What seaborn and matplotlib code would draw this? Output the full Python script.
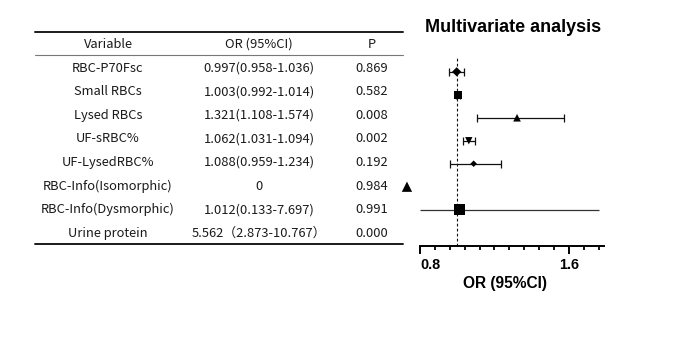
import numpy as np
import pandas as pd
import matplotlib
matplotlib.use("Agg")
import matplotlib.pyplot as plt
from matplotlib.ticker import FixedLocator
import seaborn as sns

# table contents
variables = ["RBC-P70Fsc", "Small RBCs", "Lysed RBCs", "UF-sRBC%", "UF-LysedRBC%",
             "RBC-Info(Isomorphic)", "RBC-Info(Dysmorphic)", "Urine protein"]
or_text = ["0.997(0.958-1.036)", "1.003(0.992-1.014)", "1.321(1.108-1.574)",
           "1.062(1.031-1.094)", "1.088(0.959-1.234)", "0", "1.012(0.133-7.697)",
           "5.562（2.873-10.767）"]
p_text = ["0.869", "0.582", "0.008", "0.002", "0.192", "0.984", "0.991", "0.000"]

# values for the forest plot
or_est = [0.997, 1.003, 1.321, 1.062, 1.088, 0.0, 1.012, 5.562]
ci_lo = [0.958, 0.992, 1.108, 1.031, 0.959, np.nan, 0.133, 2.873]
ci_hi = [1.036, 1.014, 1.574, 1.094, 1.234, np.nan, 7.697, 10.767]
markers = ["D", "s", "^", "v", "D", "^", "s", None]
msizes = [22, 36, 30, 28, 11, 55, 60, 0]

W, H = 685, 337
X_LO, X_HI = 0.72, 1.79
AX_LO, AX_HI = 0.80, 1.76

sns.set_style("white")
plt.rcParams["font.family"] = ["Noto Sans CJK SC", "DejaVu Sans"]

fig = plt.figure(figsize=(W / 100, H / 100), dpi=100)

# ---- table (pixel coordinates) ----
tab = fig.add_axes([0, 0, 1, 1])
tab.set_xlim(0, W)
tab.set_ylim(H, 0)
tab.axis("off")
col_x = [108, 259, 372]
tab.plot([35, 403], [32, 32], color="#1a1a1a", lw=1.4)
tab.plot([35, 403], [55, 55], color="#777", lw=0.8)
tab.plot([35, 403], [244, 244], color="#1a1a1a", lw=1.4)
for x, h in zip(col_x, ["Variable", "OR (95%CI)", "P"]):
    tab.text(x, 44, h, ha="center", va="center", fontsize=9.3, color="#1a1a1a")
for i in range(len(variables)):
    y = 68 + 23.6 * i
    for x, s in zip(col_x, [variables[i], or_text[i], p_text[i]]):
        tab.text(x, y, s, ha="center", va="center", fontsize=9.3, color="#1a1a1a")

# ---- forest plot ----
left = (420 - (0.8 - X_LO) * 186.25) / W
width = (X_HI - X_LO) * 186.25 / W
ax = fig.add_axes([left, (H - 246) / H, width, (246 - 58) / H])

df = pd.DataFrame({"name": variables, "est": or_est, "lo": ci_lo, "hi": ci_hi,
                   "marker": markers, "size": msizes})
df["row"] = np.arange(len(df))
shown = df[df["est"] <= X_HI].copy()
shown["x"] = shown["est"].clip(lower=0.73)

# error bars inside the axis range get caps, longer ones are cut at the axis
inside = shown[(shown["lo"] >= AX_LO) & (shown["hi"] <= AX_HI)]
ax.errorbar(inside["est"], inside["row"],
            xerr=[inside["est"] - inside["lo"], inside["hi"] - inside["est"]],
            fmt="none", ecolor="#111", elinewidth=0.9, capsize=2.9, capthick=0.9)
cut = shown[(shown["lo"] < AX_LO) | (shown["hi"] > AX_HI)]
ax.hlines(cut["row"], cut["lo"].clip(lower=AX_LO), cut["hi"].clip(upper=AX_HI),
          color="#333", lw=0.9)

sns.scatterplot(data=shown, x="x", y="row", style="name",
                markers=dict(zip(shown["name"], shown["marker"])),
                size="name", sizes=dict(zip(shown["name"], shown["size"])),
                color="black", edgecolor="black", linewidth=0, legend=False,
                ax=ax, zorder=3, clip_on=False)

ax.axvline(1.0, color="#111", lw=0.8, ls=(0, (2.5, 2)))
ax.set_xlim(X_LO, X_HI)
ax.set_ylim(7.58, -0.6)
ax.set_yticks([])
for s in ["top", "right", "left"]:
    ax.spines[s].set_visible(False)
ax.spines["bottom"].set_bounds(0.8, X_HI)
ax.spines["bottom"].set_linewidth(1.4)
ax.spines["bottom"].set_color("black")
ax.xaxis.set_major_locator(FixedLocator([0.8, 1.6]))
ax.xaxis.set_minor_locator(FixedLocator(np.arange(0.8, 1.77, 0.08)))
ax.tick_params(axis="x", which="major", bottom=True, length=5.8, width=1.4,
               pad=3, colors="black")
ax.tick_params(axis="x", which="minor", bottom=True, length=3.2, width=1.3,
               colors="black")
ax.set_xticklabels(["0.8", "1.6"], fontweight="bold", fontsize=10.4,
                   family="Liberation Sans")
ax.get_xticklabels()[0].set_ha("left")
ax.set_xlabel("OR (95%CI)", fontweight="bold", fontsize=11.2, family="Liberation Sans",
              labelpad=3, color="black")
ax.set_ylabel("")

fig.text(513 / W, 1 - 28 / H, "Multivariate analysis", ha="center", va="center",
         fontweight="bold", fontsize=13, family="Liberation Sans", color="black")

fig.savefig("out.png", dpi=100)
